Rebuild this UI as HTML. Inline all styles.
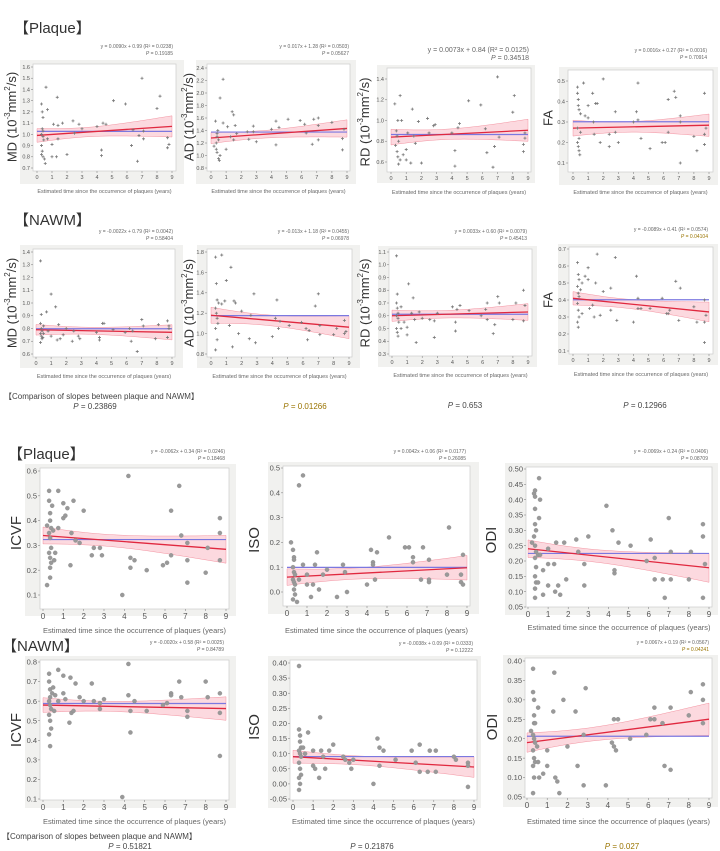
<!DOCTYPE html>
<html><head><meta charset="utf-8"><style>
body{margin:0;background:#fff;}
svg{display:block;font-family:"Liberation Sans",sans-serif;}
</style></head><body>
<svg id="fig" width="720" height="851" viewBox="0 0 720 851" xmlns="http://www.w3.org/2000/svg">
<g font-size="15" fill="#333">
<text x="14" y="33">【Plaque】</text>
<text x="14" y="225">【NAWM】</text>
<text x="8" y="459">【Plaque】</text>
<text x="2" y="651">【NAWM】</text>
</g>
<g font-size="8" fill="#444">
<text x="4" y="399">【Comparison of slopes between plaque and NAWM】</text>
<text x="95" y="409" text-anchor="middle"><tspan font-style="italic">P</tspan> = 0.23869</text>
<text x="305" y="409" text-anchor="middle" fill="#9a7400"><tspan font-style="italic">P</tspan> = 0.01266</text>
<text x="465" y="408" text-anchor="middle"><tspan font-style="italic">P</tspan> = 0.653</text>
<text x="645" y="408" text-anchor="middle"><tspan font-style="italic">P</tspan> = 0.12966</text>
</g>
<g font-size="8" fill="#444">
<text x="2" y="839">【Comparison of slopes between plaque and NAWM】</text>
<text x="130" y="849" text-anchor="middle"><tspan font-style="italic">P</tspan> = 0.51821</text>
<text x="372" y="849" text-anchor="middle"><tspan font-style="italic">P</tspan> = 0.21876</text>
<text x="622" y="849" text-anchor="middle" fill="#9a7400"><tspan font-style="italic">P</tspan> = 0.027</text>
</g>
</svg>
<script>
const p1Pts=[[0.3,1.27],[0.35,1.2],[0.4,1.15],[0.6,1.42],[0.7,1.22],[0.3,0.9],[0.35,0.85],[0.4,0.8],[0.5,0.78],[0.55,0.74],[0.3,1.0],[0.4,0.98],[0.45,0.95],[0.35,1.05],[0.4,1.03],[0.3,0.82],[0.7,0.96],[1.0,0.91],[1.0,0.8],[1.1,1.09],[1.3,0.8],[1.35,1.33],[1.4,0.96],[1.4,1.08],[1.7,1.1],[2.0,0.82],[2.4,1.12],[2.5,1.01],[2.8,1.09],[3.0,1.05],[4.0,1.07],[4.3,0.86],[4.3,0.81],[4.4,1.1],[4.6,1.09],[5.1,1.3],[5.9,1.27],[6.3,0.9],[6.4,1.04],[6.7,0.76],[6.8,0.99],[7.0,1.5],[7.1,1.03],[7.1,0.96],[8.0,1.23],[8.2,1.34],[8.7,0.97],[8.7,0.88],[8.8,0.91]];
const p2Pts=[[0.2,1.15],[0.3,1.55],[0.35,1.1],[0.4,1.05],[0.4,1.3],[0.45,1.4],[0.5,1.25],[0.5,0.95],[0.55,0.92],[0.6,1.92],[0.6,1.0],[0.35,1.2],[0.4,1.35],[0.8,2.22],[0.8,1.52],[1.0,1.1],[1.1,1.46],[1.3,1.3],[1.4,1.7],[1.5,1.65],[1.5,1.25],[1.6,1.48],[1.7,1.35],[2.4,1.38],[2.5,1.26],[2.8,1.47],[2.8,1.38],[3.0,1.22],[4.0,1.42],[4.3,1.17],[4.3,1.55],[4.5,1.45],[5.1,1.58],[5.9,1.56],[6.2,1.5],[6.3,1.36],[6.7,1.18],[6.8,1.58],[7.1,1.6],[7.1,1.25],[7.1,1.48],[8.0,1.53],[8.7,1.09],[8.7,1.27],[8.8,1.42]];
const p3Pts=[[0.25,1.16],[0.3,0.76],[0.35,0.9],[0.4,0.85],[0.4,0.7],[0.45,0.65],[0.45,1.0],[0.5,0.58],[0.5,0.8],[0.6,0.62],[0.6,1.24],[0.7,1.0],[0.8,0.67],[1.0,0.72],[1.0,0.62],[1.1,0.88],[1.3,0.59],[1.4,1.11],[1.5,0.85],[1.6,0.78],[1.8,0.99],[2.0,0.59],[2.4,1.02],[2.5,0.88],[2.8,0.95],[2.9,0.96],[4.0,0.88],[4.2,0.71],[4.2,0.56],[4.4,0.93],[4.5,0.97],[5.1,1.19],[5.9,1.15],[6.2,0.92],[6.3,0.69],[6.7,0.55],[6.8,0.75],[7.0,1.42],[7.1,0.84],[8.0,1.08],[8.1,1.24],[8.7,0.77],[8.7,0.7],[8.8,0.83],[8.8,0.88]];
const p4Pts=[[0.3,0.47],[0.3,0.44],[0.35,0.41],[0.35,0.38],[0.4,0.36],[0.3,0.27],[0.3,0.2],[0.35,0.18],[0.4,0.16],[0.45,0.14],[0.4,0.22],[0.5,0.25],[0.5,0.34],[0.7,0.49],[0.8,0.33],[1.0,0.38],[1.0,0.32],[1.3,0.44],[1.35,0.3],[1.4,0.24],[1.5,0.39],[1.6,0.39],[1.8,0.2],[2.0,0.51],[2.4,0.18],[2.4,0.24],[2.8,0.35],[2.8,0.25],[3.0,0.2],[4.0,0.3],[4.2,0.35],[4.3,0.49],[4.3,0.31],[4.5,0.22],[5.1,0.17],[5.9,0.2],[6.1,0.2],[6.3,0.25],[6.3,0.41],[6.7,0.45],[6.8,0.42],[7.1,0.1],[7.1,0.33],[7.1,0.3],[8.0,0.23],[8.2,0.16],[8.7,0.44],[8.7,0.24],[8.7,0.19],[8.8,0.27]];
const p5Pts=[[0.3,1.33],[0.35,0.91],[0.3,0.84],[0.35,0.8],[0.4,0.78],[0.3,0.76],[0.35,0.74],[0.4,0.72],[0.45,0.73],[0.3,0.69],[0.5,0.76],[0.5,0.82],[0.7,0.93],[0.8,0.78],[1.0,1.07],[1.0,0.74],[1.3,0.97],[1.4,0.71],[1.5,0.83],[1.6,0.72],[1.8,0.75],[2.0,0.8],[2.4,0.7],[2.5,0.78],[2.8,0.74],[2.9,0.72],[4.0,0.77],[4.2,0.73],[4.2,0.71],[4.4,0.84],[4.5,0.84],[5.1,0.79],[5.9,0.77],[6.2,0.8],[6.3,0.7],[6.4,0.78],[6.7,0.62],[7.0,0.87],[7.1,0.82],[7.9,0.72],[8.1,0.83],[8.7,0.86],[8.7,0.73],[8.8,0.8],[8.8,0.82]];
const p6Pts=[[0.3,1.75],[0.35,1.49],[0.4,1.33],[0.3,1.25],[0.35,1.2],[0.4,1.15],[0.45,1.1],[0.3,1.05],[0.4,0.94],[0.3,0.84],[0.5,1.3],[0.7,1.77],[0.7,1.29],[0.9,1.32],[1.0,1.52],[1.2,1.08],[1.3,1.65],[1.4,0.87],[1.5,1.32],[1.6,1.3],[1.8,1.0],[2.0,1.22],[2.5,0.95],[2.6,1.18],[2.8,1.39],[2.9,0.91],[4.0,0.97],[4.2,1.15],[4.3,1.33],[4.4,1.05],[4.5,1.12],[5.1,1.08],[5.9,1.11],[6.2,1.05],[6.3,0.94],[6.4,1.03],[6.8,1.27],[7.0,1.39],[7.1,0.99],[7.1,1.08],[8.0,0.99],[8.2,1.05],[8.7,1.13],[8.7,1.0],[8.8,1.02]];
const p7Pts=[[0.3,1.07],[0.35,0.77],[0.3,0.7],[0.35,0.66],[0.4,0.62],[0.3,0.6],[0.4,0.58],[0.45,0.55],[0.3,0.5],[0.35,0.47],[0.4,0.44],[0.6,0.67],[0.6,0.5],[0.8,0.55],[1.0,0.51],[1.0,0.45],[1.1,0.85],[1.3,0.62],[1.4,0.74],[1.5,0.57],[1.6,0.39],[1.8,0.63],[2.0,0.58],[2.5,0.57],[2.8,0.56],[2.8,0.43],[3.0,0.62],[4.0,0.67],[4.2,0.55],[4.2,0.48],[4.3,0.65],[4.5,0.68],[5.1,0.64],[5.9,0.6],[6.2,0.65],[6.3,0.57],[6.3,0.7],[6.7,0.46],[6.8,0.53],[7.0,0.75],[7.1,0.7],[8.0,0.57],[8.2,0.7],[8.7,0.8],[8.7,0.56],[8.8,0.68]];
const p8Pts=[[0.3,0.62],[0.35,0.55],[0.4,0.52],[0.3,0.48],[0.35,0.44],[0.4,0.42],[0.3,0.38],[0.35,0.34],[0.4,0.3],[0.3,0.27],[0.35,0.24],[0.5,0.46],[0.6,0.32],[0.6,0.5],[0.8,0.54],[1.0,0.59],[1.0,0.52],[1.1,0.35],[1.3,0.37],[1.4,0.3],[1.5,0.5],[1.6,0.67],[1.8,0.31],[2.0,0.45],[2.5,0.47],[2.5,0.34],[2.8,0.65],[2.9,0.28],[4.0,0.27],[4.2,0.54],[4.3,0.41],[4.3,0.35],[4.5,0.35],[5.1,0.35],[5.9,0.41],[6.2,0.32],[6.3,0.32],[6.4,0.34],[6.8,0.51],[7.0,0.28],[7.1,0.47],[8.0,0.36],[8.2,0.27],[8.7,0.4],[8.7,0.27],[8.7,0.15],[8.8,0.31]];
const p9Pts=[[0.2,0.38],[0.2,0.14],[0.3,0.52],[0.3,0.48],[0.35,0.43],[0.35,0.4],[0.4,0.37],[0.3,0.35],[0.35,0.33],[0.4,0.29],[0.3,0.27],[0.35,0.25],[0.4,0.23],[0.35,0.21],[0.35,0.17],[0.45,0.46],[0.5,0.36],[0.55,0.24],[0.6,0.27],[0.75,0.52],[0.75,0.37],[1.0,0.47],[1.0,0.41],[1.1,0.42],[1.2,0.45],[1.35,0.22],[1.4,0.35],[1.5,0.48],[1.6,0.32],[1.8,0.31],[2.0,0.44],[2.4,0.26],[2.5,0.29],[2.8,0.29],[2.9,0.26],[3.9,0.1],[4.2,0.58],[4.3,0.25],[4.3,0.21],[4.5,0.24],[5.1,0.2],[5.9,0.22],[6.1,0.23],[6.3,0.44],[6.3,0.26],[6.7,0.54],[6.8,0.34],[7.1,0.31],[7.1,0.15],[7.1,0.24],[8.0,0.19],[8.1,0.29],[8.7,0.41],[8.7,0.35],[8.7,0.24]];
const p10Pts=[[0.2,0.2],[0.3,0.17],[0.35,0.14],[0.35,0.13],[0.3,0.1],[0.35,0.08],[0.4,0.07],[0.3,0.05],[0.35,0.04],[0.4,0.03],[0.35,0.01],[0.4,-0.01],[0.3,-0.03],[0.5,-0.04],[0.6,0.43],[0.8,0.47],[0.8,0.11],[0.6,0.05],[1.0,0.03],[1.0,0.07],[1.2,-0.02],[1.3,0.03],[1.4,0.11],[1.5,0.16],[1.6,0.01],[1.8,0.07],[2.0,0.09],[2.5,-0.02],[2.8,0.11],[2.9,0.08],[3.0,0.0],[4.0,0.03],[4.2,0.17],[4.3,0.12],[4.3,0.11],[4.4,0.05],[4.5,0.16],[5.1,0.22],[5.9,0.18],[6.1,0.18],[6.3,0.14],[6.3,0.12],[6.7,0.05],[6.8,0.18],[7.1,0.04],[7.1,0.05],[7.1,0.13],[8.0,0.07],[8.1,0.26],[8.7,0.07],[8.7,0.04],[8.8,0.15],[8.8,0.03]];
const p11Pts=[[0.2,0.26],[0.3,0.42],[0.35,0.41],[0.35,0.43],[0.35,0.37],[0.35,0.32],[0.4,0.3],[0.3,0.28],[0.35,0.25],[0.4,0.23],[0.35,0.21],[0.4,0.18],[0.35,0.15],[0.4,0.13],[0.35,0.11],[0.35,0.08],[0.5,0.13],[0.5,0.22],[0.55,0.47],[0.55,0.34],[0.6,0.4],[0.6,0.22],[0.75,0.17],[0.75,0.09],[1.0,0.24],[1.0,0.19],[1.0,0.12],[1.3,0.19],[1.35,0.1],[1.4,0.26],[1.5,0.12],[1.6,0.09],[1.8,0.26],[1.9,0.14],[2.4,0.27],[2.5,0.23],[2.8,0.19],[2.8,0.12],[3.0,0.28],[3.9,0.38],[4.2,0.3],[4.3,0.16],[4.3,0.17],[4.5,0.26],[5.1,0.25],[5.9,0.2],[6.1,0.27],[6.3,0.21],[6.3,0.14],[6.7,0.14],[6.8,0.08],[7.0,0.34],[7.1,0.23],[7.1,0.14],[8.0,0.14],[8.1,0.23],[8.7,0.32],[8.7,0.28],[8.7,0.08],[8.8,0.19]];
const p12Pts=[[0.3,0.74],[0.3,0.7],[0.35,0.66],[0.35,0.62],[0.3,0.6],[0.35,0.58],[0.4,0.56],[0.3,0.53],[0.35,0.5],[0.4,0.46],[0.3,0.43],[0.35,0.37],[0.45,0.64],[0.5,0.67],[0.55,0.55],[0.6,0.63],[0.75,0.76],[0.75,0.6],[1.0,0.73],[1.0,0.64],[1.1,0.61],[1.3,0.49],[1.35,0.72],[1.4,0.54],[1.5,0.55],[1.6,0.69],[1.8,0.62],[2.0,0.6],[2.4,0.69],[2.5,0.6],[2.8,0.59],[2.8,0.56],[3.0,0.61],[3.9,0.11],[4.2,0.79],[4.2,0.63],[4.3,0.55],[4.3,0.44],[4.5,0.6],[5.1,0.55],[5.9,0.58],[6.1,0.59],[6.3,0.64],[6.3,0.63],[6.7,0.7],[6.8,0.62],[7.1,0.55],[7.1,0.52],[8.0,0.7],[8.1,0.62],[8.7,0.64],[8.7,0.54],[8.7,0.32]];
const p13Pts=[[0.3,0.39],[0.3,0.18],[0.35,0.16],[0.35,0.14],[0.4,0.12],[0.3,0.11],[0.35,0.1],[0.4,0.09],[0.3,0.07],[0.35,0.05],[0.4,0.03],[0.3,0.02],[0.35,0.0],[0.3,-0.02],[0.5,0.12],[0.6,0.1],[0.75,0.17],[1.0,0.11],[1.0,0.06],[1.1,0.05],[1.3,0.02],[1.35,0.22],[1.4,0.11],[1.5,0.09],[1.6,0.05],[1.8,0.11],[2.0,0.13],[2.5,0.09],[2.6,0.08],[2.8,0.07],[2.9,0.05],[3.0,0.08],[4.0,0.0],[4.2,0.15],[4.3,0.12],[4.3,0.06],[4.5,0.11],[5.1,0.08],[5.9,0.11],[6.1,0.07],[6.3,0.13],[6.3,0.04],[6.7,0.04],[6.8,0.11],[7.1,0.11],[7.1,0.04],[8.0,0.09],[8.1,0.08],[8.7,0.07],[8.7,0.06],[8.7,-0.01]];
const p14Pts=[[0.2,0.22],[0.3,0.38],[0.3,0.32],[0.35,0.3],[0.35,0.26],[0.35,0.24],[0.4,0.24],[0.3,0.21],[0.35,0.2],[0.4,0.19],[0.3,0.17],[0.35,0.15],[0.4,0.14],[0.3,0.13],[0.35,0.1],[0.3,0.06],[0.5,0.18],[0.55,0.28],[0.55,0.14],[0.6,0.1],[0.8,0.11],[1.0,0.17],[1.0,0.13],[1.3,0.27],[1.35,0.37],[1.4,0.1],[1.5,0.09],[1.6,0.06],[1.8,0.3],[2.0,0.18],[2.4,0.27],[2.5,0.13],[2.8,0.21],[2.8,0.08],[2.9,0.33],[3.9,0.08],[4.2,0.19],[4.3,0.25],[4.3,0.18],[4.4,0.17],[4.5,0.25],[5.1,0.2],[5.9,0.21],[6.1,0.25],[6.3,0.28],[6.3,0.25],[6.7,0.24],[6.8,0.13],[7.1,0.28],[7.1,0.12],[8.0,0.26],[8.1,0.32],[8.7,0.34],[8.7,0.3],[8.7,0.24]];
const slopes=[0.0090,0.017,0.0073,0.0016,-0.0022,-0.013,0.0033,-0.0089,-0.0062,0.0042,-0.0069,-0.0020,-0.0038,0.0067];
const intercepts=[0.99,1.28,0.84,0.27,0.79,1.18,0.60,0.41,0.34,0.06,0.24,0.58,0.09,0.19];
const eqLabels=["y = 0.0090x + 0.99 (R² = 0.0238)","y = 0.017x + 1.28 (R² = 0.0503)","y = 0.0073x + 0.84 (R² = 0.0125)","y = 0.0016x + 0.27 (R² = 0.0016)","y = -0.0022x + 0.79 (R² = 0.0042)","y = -0.013x + 1.18 (R² = 0.0455)","y = 0.0033x + 0.60 (R² = 0.0079)","y = -0.0089x + 0.41 (R² = 0.0574)","y = -0.0062x + 0.34 (R² = 0.0246)","y = 0.0042x + 0.06 (R² = 0.0177)","y = -0.0069x + 0.24 (R² = 0.0406)","y = -0.0020x + 0.58 (R² = 0.0025)","y = -0.0038x + 0.09 (R² = 0.0333)","y = 0.0067x + 0.19 (R² = 0.0567)"];
const pLabels=["0.19185","0.05627","0.34518","0.70914","0.58404","0.06978","0.45413","0.04104","0.18468","0.26085","0.08709","0.84789","0.12222","0.04241"];
const xTicks=[0,1,2,3,4,5,6,7,8,9];
const allPts=[p1Pts,p2Pts,p3Pts,p4Pts,p5Pts,p6Pts,p7Pts,p8Pts,p9Pts,p10Pts,p11Pts,p12Pts,p13Pts,p14Pts];
const L=[
{n:"md-plaque",xa:37,xb:172,tT:1.6,tB:0.7,pT:67,pB:168,st:0.1,d:1,pl:[33,64,176,171],bg:[20,60,164,124],lab:"MD",dti:1,lx:13,ly:117,ex:173,ey:48,xt:193},
{n:"ad-plaque",xa:211,xb:347,tT:2.4,tB:0.8,pT:68,pB:168,st:0.2,d:1,pl:[207,64,350,171],bg:[196,60,160,124],lab:"AD",dti:1,lx:190,ly:117,ex:349,ey:48,xt:193},
{n:"rd-plaque",xa:391,xb:528,tT:1.4,tB:0.6,pT:79,pB:162,st:0.2,d:1,pl:[387,68,531,172],bg:[377,65,158,118],lab:"RD",dti:1,lx:366,ly:122,ex:529,ey:52,xt:194,big:1},
{n:"fa-plaque",xa:573,xb:709,tT:0.5,tB:0.1,pT:81,pB:163,st:0.1,d:1,pl:[568,70,713,172],bg:[559,67,159,118],lab:"FA",dti:2,lx:549,ly:118,ex:707,ey:52,xt:194},
{n:"md-nawm",xa:36,xb:172,tT:1.4,tB:0.6,pT:252,pB:354,st:0.1,d:1,pl:[33,249,175,357],bg:[20,245,163,123],lab:"MD",dti:1,lx:13,ly:303,ex:173,ey:233,xt:378},
{n:"ad-nawm",xa:211,xb:349,tT:1.8,tB:0.8,pT:252,pB:354,st:0.2,d:1,pl:[207,249,352,357],bg:[197,245,163,123],lab:"AD",dti:1,lx:190,ly:303,ex:349,ey:233,xt:378},
{n:"rd-nawm",xa:392,xb:528,tT:1.1,tB:0.3,pT:252,pB:354,st:0.1,d:1,pl:[389,249,532,356],bg:[378,246,159,121],lab:"RD",dti:1,lx:366,ly:303,ex:527,ey:233,xt:377},
{n:"fa-nawm",xa:573,xb:709,tT:0.7,tB:0.1,pT:249,pB:351,st:0.1,d:1,pl:[569,247,713,354],bg:[558,244,160,121],lab:"FA",dti:2,lx:549,ly:300,ex:708,ey:231,xt:376,sig:1},
{n:"icvf-plaque",xa:43,xb:226,tT:0.6,tB:0.1,pT:471,pB:595,st:0.1,d:1,pl:[40,468,229,609],bg:[25,464,211,152],lab:"ICVF",lx:17,ly:533,ex:225,ey:453,xt:633},
{n:"iso-plaque",xa:287,xb:467,tT:0.5,tB:0.0,pT:468,pB:592,st:0.1,d:1,pl:[283,466,470,606],bg:[268,462,211,152],lab:"ISO",lx:255,ly:540,ex:466,ey:453,xt:633},
{n:"odi-plaque",xa:528,xb:709,tT:0.5,tB:0.05,pT:469,pB:607,st:0.05,d:2,pl:[526,467,712,607],bg:[505,463,213,152],lab:"ODI",lx:492,ly:540,ex:708,ey:453,xt:630},
{n:"icvf-nawm",xa:43,xb:226,tT:0.8,tB:0.1,pT:662,pB:799,st:0.1,d:1,pl:[40,660,229,800],bg:[25,656,211,152],lab:"ICVF",lx:17,ly:730,ex:224,ey:644,xt:824},
{n:"iso-nawm",xa:293,xb:474,tT:0.4,tB:-0.05,pT:663,pB:799,st:0.05,d:2,pl:[290,660,477,800],bg:[268,656,213,152],lab:"ISO",lx:255,ly:727,ex:473,ey:645,xt:824},
{n:"odi-nawm",xa:527,xb:709,tT:0.4,tB:0.05,pT:661,pB:797,st:0.05,d:2,pl:[525,658,712,798],bg:[503,655,215,152],lab:"ODI",lx:493,ly:727,ex:709,ey:644,xt:824,sig:1}
];
const NS="http://www.w3.org/2000/svg";
const svg=document.getElementById('fig');
function mk(tag,attrs,parent){const e=document.createElementNS(NS,tag);for(const k in attrs)e.setAttribute(k,attrs[k]);parent.appendChild(e);return e;}
L.forEach((c,i)=>{
  const pts=allPts[i];
  const dti=i<8;
  const sx=v=>c.xa+(c.xb-c.xa)*v/9;
  const sy=v=>c.pT+(c.tT-v)*(c.pB-c.pT)/(c.tT-c.tB);
  const g=mk('g',{},svg);
  
  
  const bg=mk('rect',{x:c.bg[0],y:c.bg[1],width:c.bg[2],height:c.bg[3],fill:'#f1f1ef'},g);
  
  
  const [x1,y1,x2,y2]=c.pl;
  const pa=mk('rect',{x:x1,y:y1,width:x2-x1,height:y2-y1,fill:'#fff',stroke:'#ccc','stroke-width':0.7},g);
  
  
  const fs=dti?5.5:7.5;
  const yt=mk('g',{'font-size':fs,fill:'#555','text-anchor':'end'},g);
  
  
  const nT=Math.round((c.tT-c.tB)/c.st);
  for(let k=0;k<=nT;k++){const v=c.tB+k*c.st;const y=sy(v);
    mk('line',{x1:x1-2,x2:x1,y1:y,y2:y,stroke:'#888','stroke-width':0.6},yt);
    const t=mk('text',{x:x1-3,y:y+fs*0.35},yt);t.textContent=v.toFixed(c.d);}
  const xt=mk('g',{'font-size':dti?5.5:8,fill:'#555','text-anchor':'middle'},g);
  
  
  xTicks.forEach(v=>{const x=sx(v);mk('line',{x1:x,x2:x,y1:y2,y2:y2+2,stroke:'#888','stroke-width':0.6},xt);
    const t=mk('text',{x:x,y:y2+(dti?8:10)},xt);t.textContent=v;});
  const xtt=mk('text',{x:(x1+x2)/2,y:c.xt,'font-size':dti?5.5:7.5,fill:'#666','text-anchor':'middle'},g);
  xtt.textContent='Estimated time since the occurrence of plaques (years)';
  
  
  const yl=mk('text',{transform:`translate(${c.lx},${c.ly}) rotate(-90)`,'font-size':dti?13:15,fill:'#333','text-anchor':'middle','dominant-baseline':'middle'},g);
  
  
  if(c.dti===1){yl.innerHTML=c.lab+' (10<tspan font-size="8" dy="-5">-3</tspan><tspan dy="5">mm</tspan><tspan font-size="8" dy="-5">2</tspan><tspan dy="5">/s)</tspan>';}
  else yl.textContent=c.lab;
  const n=pts.length;const xm=pts.reduce((a,p)=>a+p[0],0)/n;const ym=pts.reduce((a,p)=>a+p[1],0)/n;
  const Sxx=pts.reduce((a,p)=>a+(p[0]-xm)**2,0);
  const res=pts.reduce((a,p)=>a+(p[1]-intercepts[i]-slopes[i]*p[0])**2,0);
  const s=Math.sqrt(res/(n-2));
  const up=[],dn=[];
  for(let k=0;k<=30;k++){const x=9*k/30;const yh=intercepts[i]+slopes[i]*x;const h=1.6*s*Math.sqrt(1/n+(x-xm)**2/Sxx);
    up.push(sx(x).toFixed(1)+','+sy(yh+h).toFixed(1));dn.unshift(sx(x).toFixed(1)+','+sy(yh-h).toFixed(1));}
  const band=mk('polygon',{points:up.concat(dn).join(' '),fill:'rgba(245,120,140,0.28)',stroke:'rgba(235,90,110,0.6)','stroke-width':0.5},g);
  
  
  const ml=mk('line',{x1:sx(0),x2:sx(9),y1:sy(ym),y2:sy(ym),stroke:'#7b78e0','stroke-width':1.2},g);
  
  
  const fl=mk('line',{x1:sx(0),x2:sx(9),y1:sy(intercepts[i]),y2:sy(intercepts[i]+slopes[i]*9),stroke:'#e0283f','stroke-width':1.3},g);
  
  
  const pg=mk('g',{},g);
  
  
  pts.forEach(p=>{const x=sx(p[0]),y=sy(p[1]);
    let m;
    if(dti){m=mk('path',{d:`M${x-1.5},${y}H${x+1.5}M${x},${y-1.5}V${y+1.5}`,stroke:'#777','stroke-width':0.8},pg);}
    else{m=mk('circle',{cx:x,cy:y,r:2.1,fill:'#999',stroke:'#888','stroke-width':0.3},pg);}
    
    });
  const efs=c.big?7:5;
  const eq=mk('text',{x:c.ex,y:c.ey,'font-size':efs,fill:'#666','text-anchor':'end'},g);
  eq.textContent=eqLabels[i];
  
  
  const pv=mk('text',{x:c.ex,y:c.ey+(c.big?8:7),'font-size':efs,fill:c.sig?'#9a7400':'#666','text-anchor':'end'},g);
  pv.innerHTML='<tspan font-style="italic">P</tspan> = '+pLabels[i];
  
  
});
</script>
</body></html>
